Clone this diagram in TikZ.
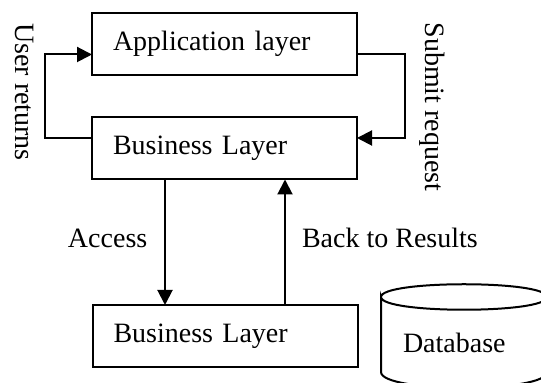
\documentclass[tikz,border=0pt]{standalone}
\usepackage{fontspec}
\setmainfont{Liberation Serif}
\usetikzlibrary{arrows.meta,calc}

\begin{document}
\begin{tikzpicture}[x=0.5pt,y=-0.5pt,line width=1pt,>={Triangle[length=7.5pt,width=7.5pt]}]
	% `layer' is used for the three boxes.
	% `flowlabel' is used for the texts on the connectors.
	\tikzstyle{layer} = [draw,rectangle,outer sep=0pt,inner xsep=10.5pt,text width=111.5pt,minimum height=31pt,align=left,font=\fontsize{14}{16}\selectfont]
	\tikzstyle{flowlabel} = [inner sep=0pt,font=\fontsize{14}{16}\selectfont]
	\useasboundingbox (0,0) rectangle (541,383);
	%
	\node[layer,anchor=north west] (app) at (92,13) {Application layer};
	\node[layer,anchor=north west] (bus) at (92,117.5) {Business Layer};
	\node[layer,anchor=north west] (low) at (92.5,305) {Business Layer};
	% Free ends of the side connectors.
	\coordinate (left) at (45,0);
	\coordinate (right) at (405,0);
	% Draw lines.
	\draw[->] ([yshift=5.25pt]bus.west) -- ([yshift=5.25pt]bus.west -| left) |- ([yshift=-5.25pt]app.west);
	\draw[->] ([yshift=-5.25pt]app.east) -- ([yshift=-5.25pt]app.east -| right) |- ([yshift=5.25pt]bus.east);
	\coordinate (accesstop) at (165,180);
	\coordinate (backtop) at (285,180);
	\draw[->] (accesstop |- bus.south) -- (accesstop |- low.north);
	\draw[->] (backtop |- low.north) -- (backtop |- bus.south);
	% Labels.
	\node[flowlabel,rotate=-90] (userlabel) at (25,92) {User returns};
	\node[flowlabel,rotate=-90] (submitlabel) at (432,107) {Submit request};
	\node[flowlabel,anchor=base west] (accesslabel) at (67,248) {Access};
	\node[flowlabel,anchor=base west] (backlabel) at (301,248) {Back to Results};
	% Draw database.
	\draw (381,297) .. controls (381,280) and (547,280) .. (547,297) .. controls (547,314) and (381,314) .. (381,297) -- (381,372) .. controls (381,393) and (547,393) .. (547,372);
	\node[flowlabel,anchor=base west] (dblabel) at (402,353) {Database};
\end{tikzpicture}
\end{document}
